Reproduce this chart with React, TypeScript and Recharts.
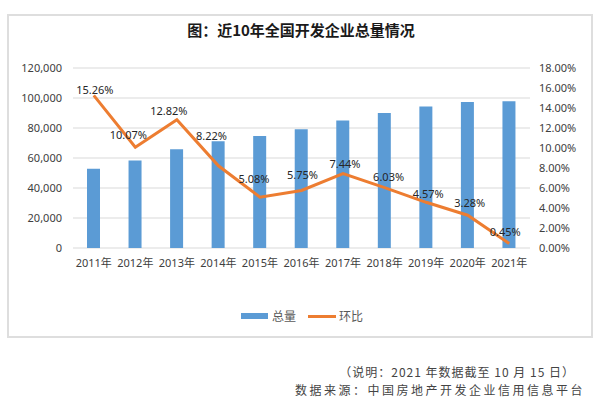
import { ComposedChart, Bar, Line, XAxis, YAxis, CartesianGrid, LabelList } from 'recharts'

const years = ['2011年', '2012年', '2013年', '2014年', '2015年', '2016年', '2017年', '2018年', '2019年', '2020年', '2021年']
const totals = [52900, 58300, 65800, 71100, 74700, 79100, 85000, 90000, 94300, 97300, 97800]
const growth = [15.26, 10.07, 12.82, 8.22, 5.08, 5.75, 7.44, 6.03, 4.57, 3.28, 0.45]
const leftTicks = [0, 20000, 40000, 60000, 80000, 100000, 120000]
const rightTicks = [0, 2, 4, 6, 8, 10, 12, 14, 16, 18]

// Excel-style label nudges (dx, dy from the point), one per point
const labelNudge = [
  [1, -6], [-7, -13], [-8, -9], [-7, -30], [-6, -19], [1, -16],
  [2, -10], [4, -11], [2, -9], [2, -13], [-4, -12],
]

const data = years.map((y, i) => ({ year: y, total: totals[i], growth: growth[i] }))

const FONT = "'Noto Sans', 'Noto Sans CJK SC', sans-serif"
const BLUE = '#5B9BD5'
const ORANGE = '#ED7D31'

const fmtNum = (v: number) => v.toLocaleString('en-US')
const fmtPct = (v: number) => `${v.toFixed(2)}%`

const PctLabel = (props: any) => {
  const { x, y, index, value } = props
  const [dx, dy] = labelNudge[index] || [0, -8]
  return (
    <text x={x + dx} y={y + dy} textAnchor="middle" dominantBaseline="central"
      fontSize={11} fontFamily={FONT} fill="#262626">
      {fmtPct(value)}
    </text>
  )
}

const LegendBox = () => (
  <div style={{ position: 'absolute', left: 0, top: 307, width: 604, display: 'flex', alignItems: 'center', justifyContent: 'center', fontFamily: FONT, fontSize: 12, color: '#595959' }}>
    <span style={{ display: 'inline-block', width: 27, height: 6, background: BLUE, marginRight: 4 }} />
    <span style={{ marginRight: 12 }}>总量</span>
    <span style={{ display: 'inline-block', width: 28, height: 3, background: ORANGE, marginRight: 3 }} />
    <span>环比</span>
  </div>
)

export default function App() {
  return (
    <div style={{ position: 'absolute', left: 0, top: 0, width: 600, height: 408, background: '#fff', overflow: 'hidden' }}>
      <div style={{ position: 'absolute', left: 7, top: 14, width: 582, height: 320, border: '2px solid #dedede' }} />
      <div style={{ position: 'absolute', left: 0, top: 19, width: 602, textAlign: 'center', fontFamily: "'Noto Sans CJK SC', sans-serif", fontWeight: 700, fontSize: 15, color: '#1a1a1a' }}>
        图：近10年全国开发企业总量情况
      </div>
      <div style={{ position: 'absolute', left: 0, top: 0 }}>
        <ComposedChart width={600} height={408} data={data} margin={{ top: 68, right: 0, bottom: 130, left: 0 }}>
          <CartesianGrid yAxisId="left" horizontal vertical={false} stroke="#d9d9d9" />
          <XAxis dataKey="year" axisLine={false} tickLine={false} tickSize={0} tickMargin={11} interval={0}
            tick={{ fill: '#404040', fontSize: 11, fontFamily: FONT }} height={30} />
          <YAxis yAxisId="left" domain={[0, 120000]} ticks={leftTicks} tickFormatter={fmtNum} width={73} interval={0}
            axisLine={false} tickLine={false} tickSize={0} tickMargin={11}
            tick={{ fill: '#404040', fontSize: 11, fontFamily: FONT }} />
          <YAxis yAxisId="right" orientation="right" domain={[0, 18]} ticks={rightTicks} tickFormatter={fmtPct} width={70} interval={0}
            axisLine={false} tickLine={false} tickSize={0} tickMargin={9}
            tick={{ fill: '#404040', fontSize: 11, fontFamily: FONT }} />
          <Bar yAxisId="left" dataKey="total" name="总量" fill={BLUE} barSize={13} isAnimationActive={false} />
          <Line yAxisId="right" dataKey="growth" name="环比" stroke={ORANGE} strokeWidth={3} dot={false}
            type="linear" isAnimationActive={false}>
            <LabelList dataKey="growth" content={<PctLabel />} />
          </Line>
        </ComposedChart>
      </div>
      <LegendBox />
      <div style={{ position: 'absolute', right: 25, top: 363, fontFamily: "'Noto Sans CJK SC', sans-serif", fontSize: 12, letterSpacing: 1, color: '#444', whiteSpace: 'nowrap' }}>
        （说明：2021 年数据截至 10 月 15 日）
      </div>
      <div style={{ position: 'absolute', right: 15, top: 381, fontFamily: "'Noto Sans CJK SC', sans-serif", fontSize: 12, letterSpacing: 2.5, color: '#444', whiteSpace: 'nowrap' }}>
        数据来源：中国房地产开发企业信用信息平台
      </div>
    </div>
  )
}
